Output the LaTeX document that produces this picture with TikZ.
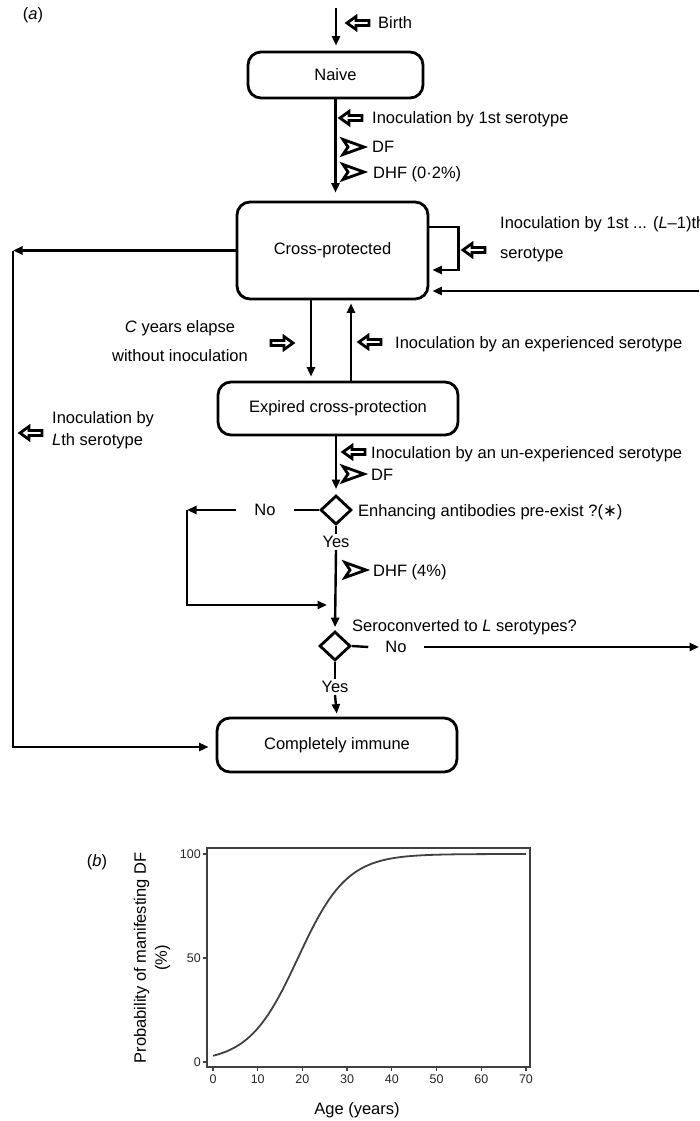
\documentclass[tikz,border=0pt]{standalone}
\usepackage{fontspec}
\setmainfont{Liberation Sans}
\newfontfamily\symfont{DejaVu Sans}
\usetikzlibrary{arrows.meta,shapes.geometric}

\begin{document}
\begin{tikzpicture}[x=1pt,y=-1pt,
    font=\fontsize{16.5}{20}\selectfont,
    box/.style={draw, line width=2.8pt, rounded corners=13pt, inner sep=0pt},
    ask/.style={draw, diamond, line width=2.8pt, minimum width=31pt, minimum height=29pt, inner sep=0pt},
    link/.style={line width=2.4pt},
    flow/.style={link, -{Triangle[length=9.5pt,width=8pt]}},
    txt/.style={anchor=base west, inner sep=0pt, yshift=-6pt},
    word/.style={inner sep=2pt},
    tick/.style={font=\fontsize{12.5}{14}\selectfont, inner sep=0pt, text=black!85},
    frame/.style={line width=1.3pt, black!75},
    curve/.style={line width=1.8pt, black!75},
    hollowL/.pic={\draw[line width=2.8pt, line join=miter] (0,0) -- (9,-6.5) -- (9,-2.5) -- (22,-2.5) -- (22,2.5) -- (9,2.5) -- (9,6.5) -- cycle;},
    hollowR/.pic={\draw[line width=2.8pt, line join=miter] (0,0) -- (-9,-6.5) -- (-9,-2.5) -- (-22,-2.5) -- (-22,2.5) -- (-9,2.5) -- (-9,6.5) -- cycle;},
    chev/.pic={\draw[line width=2.8pt, line join=miter] (0,-7.5) -- (21,0) -- (0,7.5) -- (5,0) -- cycle;}]
    \useasboundingbox (0,0) rectangle (699,1121);

    % Состояния
    \node (partA) at (33,15) {(\textit{a})};
    \node[box, minimum width=175pt, minimum height=46pt] (naive) at (335.5,75) {Naive};
    \node[box, minimum width=191pt, minimum height=97pt] (cross) at (332.5,250.5) {Cross-protected};
    \node[box, minimum width=240pt, minimum height=53pt] (expired) at (338,408.5) {Expired cross-protection};
    \node[box, minimum width=240pt, minimum height=54pt] (immune) at (337,745) {Completely immune};

    % Вопросы
    \node[ask] (enh) at (336,510) {};
    \node[ask] (sero) at (335,646) {};
    \node[word] (yesA) at (336,542) {Yes};
    \node[word, inner xsep=18pt] (noA) at (265,510) {No};
    \node[word] (yesB) at (335,687) {Yes};
    \node[word, inner xsep=17pt] (noB) at (396,647) {No};
    \node[txt] (enhT) at (358,510) {Enhancing antibodies pre-exist ?({\symfont ∗})};
    \node[txt] (seroT) at (352,625) {Seroconverted to \textit{L} serotypes?};

    % Точки на краях
    \coordinate (birth) at (336,8);
    \coordinate (leftTop) at (13,250.5);
    \coordinate (leftBot) at (13,747);
    \coordinate (cornerA) at (187,510);
    \coordinate (cornerB) at (187,605);
    \coordinate (edgeA) at (699,291);
    \coordinate (edgeB) at (699,647);
    \coordinate (lapse) at ([xshift=-21.5pt]cross.south);
    \coordinate (back) at ([xshift=18.5pt]cross.south);

    % Переходы
    \draw[flow, shorten >=5pt] (birth) -- (birth |- naive.north);
    \draw[flow, shorten >=8pt] (naive.south) -- (naive.south |- cross.north);
    \draw[flow, shorten >=3pt] ([yshift=23.5pt]cross.east) -- ++(29,0) |- ([yshift=-19.5pt]cross.east);
    \draw[flow, shorten >=3pt] (edgeA) -- (edgeA -| cross.east);
    \draw[flow, shorten >=4pt] (lapse) -- (lapse |- expired.north);
    \draw[flow, shorten >=3pt] (back |- expired.north) -- (back);
    \draw[flow] (cross.west) -- (leftTop);
    \draw[flow, shorten >=7pt] (leftTop) -- (leftBot) -- (leftBot -| immune.west);
    \draw[flow, shorten >=5pt] (expired.south -| enh) -- (enh.north);
    \draw[link] (enh.west) -- (noA.east);
    \draw[flow] (noA.west) -- (cornerA);
    \draw[flow, shorten >=8pt] (cornerA) -- (cornerB) -- (cornerB -| sero);
    \draw[link] (enh.south) -- (yesA.north);
    \draw[flow, shorten >=3pt] (yesA.south) -- (sero.north);
    \draw[link] (sero.east) -- (noB.west);
    \draw[flow] (noB.east) -- (edgeB);
    \draw[link] (sero.south) -- (yesB.north);
    \draw[flow, shorten >=3pt] (yesB.south) -- (immune.north);

    % Подписи со стрелками
    \foreach \n/\ax/\tx/\y/\txt in {birthT/347/378/23/Birth,
        firstT/340/372/118/Inoculation by 1st serotype,
        experT/359/395/342/Inoculation by an experienced serotype,
        unexpT/343/371/452/Inoculation by an un-experienced serotype}
    {
        \pic at (\ax,\y) {hollowL};
        \node[txt] (\n) at (\tx,\y) {\txt};
    }
    \foreach \n/\ax/\tx/\y/\txt in {dfA/343/372/147/DF, dhfA/343/373/172/DHF (0·2\%),
        dfB/343/371/474/DF, dhfB/345/373/570/DHF (4\%)}
    {
        \pic at (\ax,\y) {chev};
        \node[txt] (\n) at (\tx,\y) {\txt};
    }
    \pic at (463,250) {hollowL};
    \node[anchor=west, align=left, inner sep=0pt, font=\fontsize{16.5}{30}\selectfont] (loopT) at (500,239)
        {Inoculation by 1st ... (\textit{L}–1)th\\serotype};
    \pic at (20,433) {hollowL};
    \node[anchor=west, align=left, inner sep=0pt, font=\fontsize{16.5}{22}\selectfont] (lthT) at (52,430)
        {Inoculation by\\\textit{L}th serotype};
    \pic at (293,343) {hollowR};
    \node[align=center, inner sep=0pt, font=\fontsize{16.5}{29}\selectfont] (lapseT) at (180,341)
        {\textit{C} years elapse\\without inoculation};

    % График
    \def\xzero{213}
    \def\xs{4.471}
    \def\yzero{1062}
    \def\ys{2.08}
    \node (partB) at (97,862) {(\textit{b})};
    \draw[frame] (207,848) rectangle (530,1067);
    \foreach \v in {0,50,100}
    {
        \draw[frame] (203,{\yzero-\ys*\v}) -- (207,{\yzero-\ys*\v});
        \node[tick, anchor=east] (ty\v) at (201,{\yzero-\ys*\v}) {\v};
    }
    \foreach \t in {0,10,...,70}
    {
        \draw[frame] ({\xzero+\xs*\t},1067) -- ++(0,4);
        \node[tick, anchor=north] (tx\t) at ({\xzero+\xs*\t},1075) {\t};
    }
    \draw[curve] plot[domain=0:70, samples=120, smooth] ({\xzero+\xs*\x}, {\yzero-\ys*100/(1+exp(-(\x-19)/5.47))});
    \node[rotate=90, align=center, font=\fontsize{16.5}{21}\selectfont] (ylab) at (152,958)
        {Probability of manifesting DF\\(\%)};
    \node (xlab) at (357,1110) {Age (years)};
\end{tikzpicture}
\end{document}
